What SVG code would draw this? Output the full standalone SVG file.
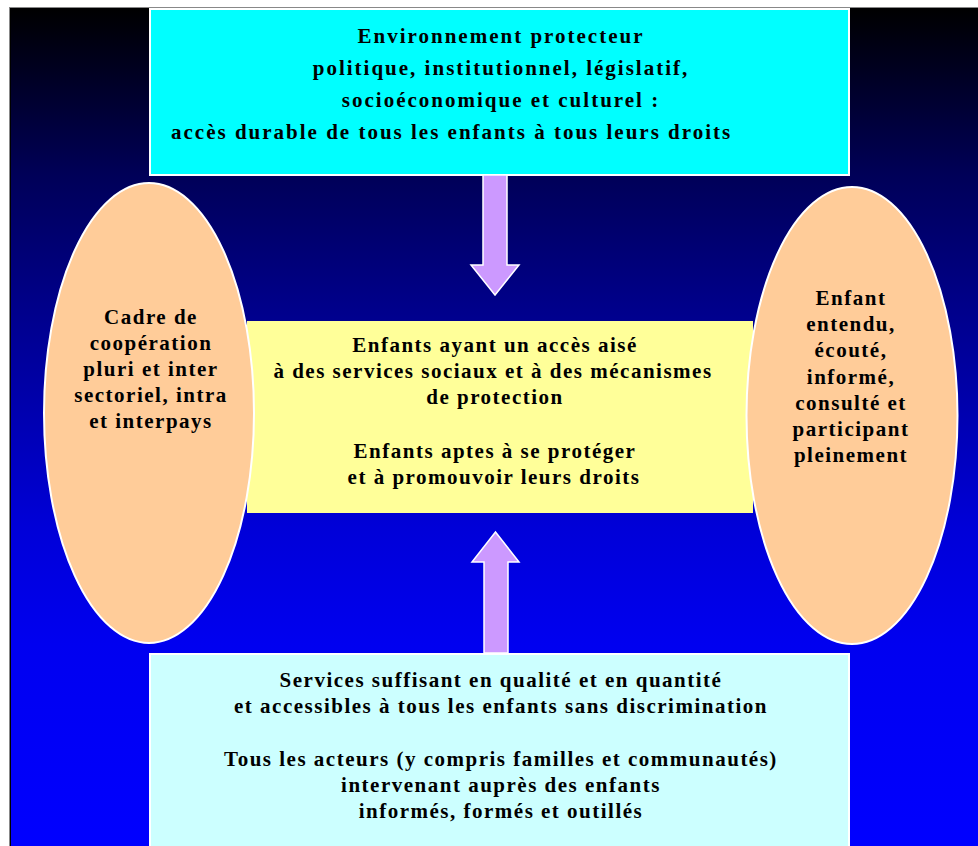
<svg xmlns="http://www.w3.org/2000/svg" width="978" height="846" viewBox="0 0 978 846">
<defs>
<linearGradient id="bg" x1="0" y1="8" x2="0" y2="846" gradientUnits="userSpaceOnUse">
<stop offset="0" stop-color="#000000"/>
<stop offset="0.2" stop-color="#000058"/>
<stop offset="0.35" stop-color="#000088"/>
<stop offset="0.62" stop-color="#0000D8"/>
<stop offset="0.76" stop-color="#0000F0"/>
<stop offset="1" stop-color="#0000FF"/>
</linearGradient>
<style>
text{font-family:"Liberation Serif","Times New Roman",serif;font-weight:bold;font-size:21px;letter-spacing:1.5px;fill:#000;text-anchor:middle}
.t{letter-spacing:2px}
.box{stroke:#fff;stroke-width:2}
.ell{fill:#FFCC99;stroke:#fff;stroke-width:2}
.arr{fill:#CC99FF;stroke:#fff;stroke-width:1.5;stroke-linejoin:miter}
</style>
</defs>
<rect x="0" y="0" width="978" height="846" fill="#fff"/>
<rect x="10" y="8" width="968" height="838" fill="url(#bg)"/>
<line x1="9.5" y1="7" x2="9.5" y2="846" stroke="#888" stroke-width="1"/>
<line x1="9" y1="7.5" x2="978" y2="7.5" stroke="#888" stroke-width="1"/>
<line x1="10.5" y1="8" x2="10.5" y2="846" stroke="#000" stroke-width="1"/>

<g id="top">
<rect class="box" x="150" y="9" width="699" height="166" fill="#00FFFF"/>
<text class="t" x="501" y="43">Environnement protecteur</text>
<text class="t" x="501" y="75">politique, institutionnel, législatif,</text>
<text class="t" x="501" y="107">socioéconomique et culturel :</text>
<text class="t" x="171" y="139" style="text-anchor:start">accès durable de tous les enfants à tous leurs droits</text>
</g>

<g id="center">
<rect x="247" y="321" width="506" height="192" fill="#FFFF99"/>
<text x="495" y="352">Enfants ayant un accès aisé</text>
<text x="493" y="378">à des services sociaux et à des mécanismes</text>
<text x="495" y="404">de protection</text>
<text x="495" y="458">Enfants aptes à se protéger</text>
<text x="494" y="484">et à promouvoir leurs droits</text>
</g>

<g id="left">
<ellipse class="ell" cx="149" cy="413" rx="105" ry="230"/>
<text x="151" y="324">Cadre de</text>
<text x="151" y="350">coopération</text>
<text x="151" y="376">pluri et inter</text>
<text x="151" y="402">sectoriel, intra</text>
<text x="151" y="428">et interpays</text>
</g>

<g id="right">
<ellipse class="ell" cx="852" cy="415.5" rx="105.5" ry="228.5"/>
<text x="851" y="305">Enfant</text>
<text x="851" y="331">entendu,</text>
<text x="851" y="357">écouté,</text>
<text x="851" y="384">informé,</text>
<text x="851" y="410">consulté et</text>
<text x="851" y="436">participant</text>
<text x="851" y="462">pleinement</text>
</g>

<g id="bottom">
<rect class="box" x="150" y="654" width="699" height="200" fill="#CCFFFF"/>
<text x="501" y="687">Services suffisant en qualité et en quantité</text>
<text x="501" y="713">et accessibles à tous les enfants sans discrimination</text>
<text x="501" y="766">Tous les acteurs (y compris familles et communautés)</text>
<text x="501" y="792">intervenant auprès des enfants</text>
<text x="501" y="818">informés, formés et outillés</text>
</g>

<g id="connectors">
<polygon class="arr" points="483,175 507,175 507,265 519,265 495,295 471,265 483,265"/>
<polygon class="arr" points="484,653 508,653 508,562 519,562 495.5,532 472,562 484,562"/>
</g>
</svg>
